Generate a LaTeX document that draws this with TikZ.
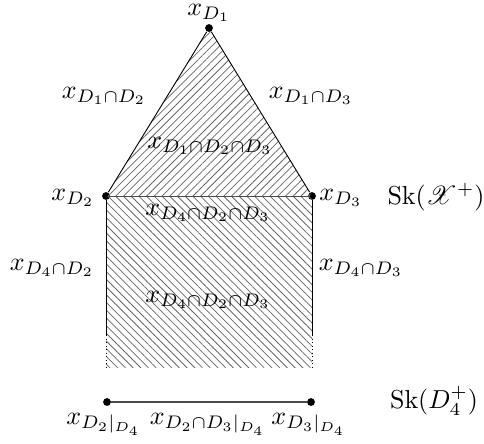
\documentclass[tikz,border=0pt]{standalone}
\usepackage{amsmath,amssymb}
\usepackage{mathrsfs}
\usetikzlibrary{positioning,patterns.meta}

\begin{document}
\begin{tikzpicture}[
  x=0.385pt, y=-0.385pt,
  vert/.style={circle, fill=black, inner sep=0pt, minimum size=3pt},
  edge/.style={draw=black, line width=0.35pt},
  hatchne/.style={pattern={Lines[angle=45,distance=2.1pt,line width=0.3pt]}, pattern color=black!60},
  hatchnw/.style={pattern={Lines[angle=-45,distance=2.1pt,line width=0.3pt]}, pattern color=black!60},
  lbl/.style={inner sep=1pt}
]
\useasboundingbox (0,0) rectangle (484,443);

% vertices
\node[vert] (d1) at (209,28) {};
\node[vert] (d2) at (106,196) {};
\node[vert] (d3) at (312,196) {};
\coordinate (s2) at (106,335);
\coordinate (s3) at (312,335);
\coordinate (e2) at (106,367);
\coordinate (e3) at (312,367);

% hatched cells
\fill[hatchne] (d1.center) -- (d2.center) -- (d3.center) -- cycle;
\fill[hatchnw] (d2.center) -- (d3.center) -- (e3) -- (e2) -- cycle;

\draw[edge] (d1) -- (d2);
\draw[edge] (d1) -- (d3);
\draw[edge, black!70] (d2) -- (d3);
\draw[edge] (d2) -- (s2);
\draw[edge] (d3) -- (s3);
\draw[edge, densely dotted] (s2) -- (e2);
\draw[edge, densely dotted] (s3) -- (e3);

\node[lbl] (l1) at (209,13) {$x_{D_1}$};
\node[lbl] (l2) at (73,198) {$x_{D_2}$};
\node[lbl] (l3) at (341,198) {$x_{D_3}$};
\node[lbl] (l12) at (104,96) {$x_{D_1\cap D_2}$};
\node[lbl] (l13) at (311,96) {$x_{D_1\cap D_3}$};
\node[lbl] (l123) at (210,146) {$x_{D_1\cap D_2\cap D_3}$};
\node[lbl] (l423a) at (208,213) {$x_{D_4\cap D_2\cap D_3}$};
\node[lbl] (l42) at (52,268) {$x_{D_4\cap D_2}$};
\node[lbl] (l43) at (361,268) {$x_{D_4\cap D_3}$};
\node[lbl] (l423b) at (208,300) {$x_{D_4\cap D_2\cap D_3}$};
\node[lbl] (skx) at (436,197) {$\mathrm{Sk}(\mathscr{X}^+)$};

% skeleton of D_4
\node[vert] (b2) at (107,402) {};
\node[vert] (b3) at (311,402) {};
\draw[edge, line width=0.7pt, black!70] (b2) -- (b3);
\node[lbl] (m2) at (104,424) {$x_{D_2|_{D_4}}$};
\node[lbl] (m23) at (208,424) {$x_{D_2\cap D_3|_{D_4}}$};
\node[lbl] (m3) at (309,424) {$x_{D_3|_{D_4}}$};
\node[lbl] (skd) at (434,401) {$\mathrm{Sk}(D_4^+)$};

\end{tikzpicture}
\end{document}
